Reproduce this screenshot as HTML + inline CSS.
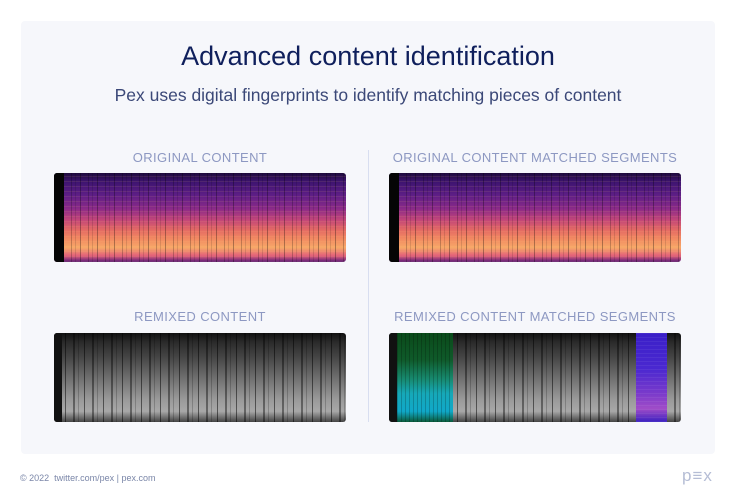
<!DOCTYPE html>
<html><head><meta charset="utf-8"><style>
html,body{margin:0;padding:0;background:#fff;width:736px;height:499px;overflow:hidden;font-family:"Liberation Sans",sans-serif}
.card{position:absolute;left:21px;top:21px;width:694px;height:433px;background:#f6f7fb;border-radius:4px}
.t{position:absolute;left:0;width:736px;text-align:center}
.title{top:41px;font-size:27px;color:#0f1f5c;font-weight:500}
.sub{top:85px;font-size:17.5px;color:#3b4878}
.lab{position:absolute;font-size:13px;color:#8d98c2;letter-spacing:0.4px;text-align:center;width:300px}
.sp{position:absolute;width:292px;height:89px;border-radius:3px;overflow:hidden}
.orig{background:
 repeating-linear-gradient(90deg,rgba(0,0,0,.22) 0 1px,transparent 1px 4px,rgba(0,0,0,.12) 4px 5px,transparent 5px 9px,rgba(0,0,0,.3) 9px 10px,transparent 10px 17px),
 repeating-linear-gradient(0deg,rgba(255,200,120,.1) 0 1px,transparent 1px 5px),
 linear-gradient(180deg,#1e0a3c 0%,#3e1470 10%,#5e1e86 25%,#8a2a88 40%,#c0447a 52%,#e46a64 64%,#f28a62 74%,#f7a868 84%,#e2607a 93%,#5a1a78 100%)}
.grey{background:
 repeating-linear-gradient(90deg,rgba(0,0,0,.4) 0 2px,transparent 2px 5px,rgba(0,0,0,.2) 5px 6px,transparent 6px 11px,rgba(0,0,0,.5) 11px 12px,transparent 12px 19px),
 linear-gradient(180deg,#111 0%,#2a2a2a 10%,#4a4a4a 30%,#777 55%,#9a9a9a 75%,#a8a8a8 88%,#444 100%)}
.blk{position:absolute;left:0;top:0;width:10px;height:100%;background:#050505}
.div{position:absolute;left:368px;top:150px;width:1px;height:272px;background:#d8def0}
.foot{position:absolute;left:20px;top:473px;font-size:9px;color:#7a86a8}
.logo{position:absolute;left:682px;top:466px;font-size:17px;color:#b5bdd5;letter-spacing:1px}
</style></head><body>
<div class="card"></div>
<div class="t title">Advanced content identification</div>
<div class="t sub">Pex uses digital fingerprints to identify matching pieces of content</div>
<div class="lab" style="left:50px;top:150px">ORIGINAL CONTENT</div>
<div class="lab" style="left:385px;top:150px;width:300px">ORIGINAL CONTENT MATCHED SEGMENTS</div>
<div class="lab" style="left:50px;top:309px">REMIXED CONTENT</div>
<div class="lab" style="left:385px;top:309px;width:300px">REMIXED CONTENT MATCHED SEGMENTS</div>
<div class="div"></div>
<div class="sp orig" style="left:54px;top:173px"><div class="blk"></div></div>
<div class="sp orig" style="left:389px;top:173px"><div class="blk"></div></div>
<div class="sp grey" style="left:54px;top:333px"><div class="blk" style="width:8px;background:#111"></div></div>
<div class="sp grey" style="left:389px;top:333px"><div class="blk" style="width:8px;background:#111"></div>
 <div style="position:absolute;left:8px;top:0;width:56px;height:100%;background:
 repeating-linear-gradient(90deg,rgba(0,0,0,.2) 0 1px,transparent 1px 4px),
 linear-gradient(180deg,#0a4a1a 0%,#0f5a2a 30%,#178a70 52%,#16a8b8 68%,#10a8c8 88%,#0b5a3a 100%)"></div>
 <div style="position:absolute;left:247px;top:0;width:31px;height:100%;background:
 repeating-linear-gradient(0deg,rgba(255,255,255,.06) 0 1px,transparent 1px 4px),
 linear-gradient(180deg,#3a1fc8 0%,#4a28d0 40%,#7a3acb 68%,#a04cc8 85%,#3a20c0 100%)"></div>
</div>
<div class="foot">© 2022 &nbsp;twitter.com/pex | pex.com</div>
<div class="logo">p≡x</div>
</body></html>
